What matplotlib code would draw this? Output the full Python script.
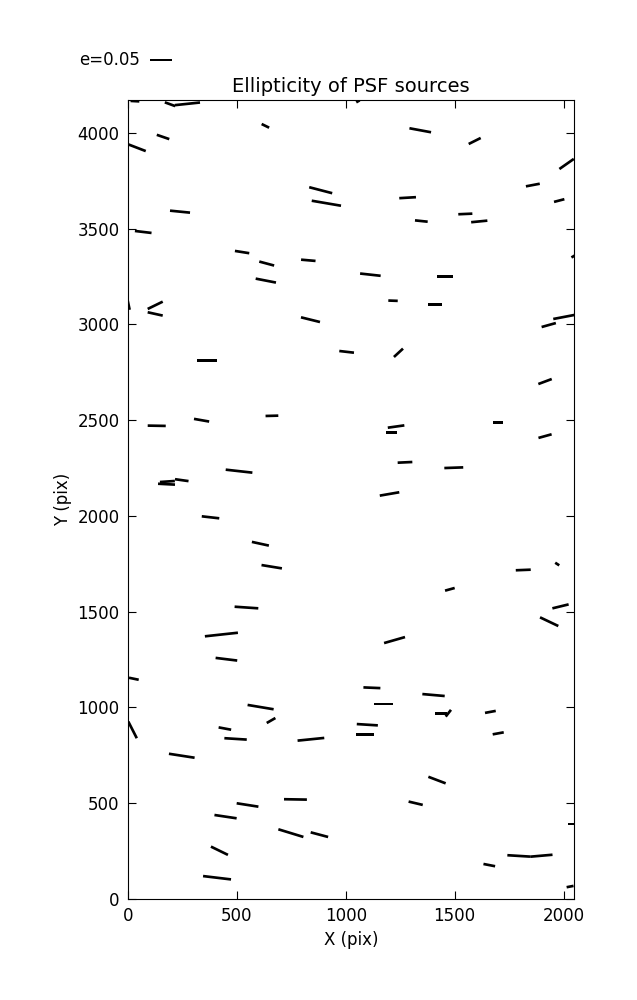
import numpy as np
import matplotlib
matplotlib.use("Agg")
import matplotlib.pyplot as plt

# star positions (pix), ellipticity and position angle (deg)
x = [32, 193, 273, 631, 161, 41, 885, 911, 239, 70, 524, 637, 828, 633,
     125, 125, 2, 838, 1004, 364, 132, 338, 661, 510, 177, 181, 247, 379,
     608, 660, 544, 429, 452, 27, 21, 609, 657, 445, 494, 840, 247, 549,
     769, 448, 748, 879, 420, 409,
     1056, 1342, 1592, 2014, 1859, 1980, 1284, 1347, 1549, 1613, 2044, 1113,
     1454, 1217, 1410, 2001, 1932, 1242, 1915, 1231, 1209, 1699, 1915, 1272,
     1496, 1201, 1971, 1815, 1478, 1986, 1934, 1224, 1120, 1403, 1175, 1436,
     1471, 1664, 1099, 1087, 1700, 1419, 1321, 2034, 1794, 1898, 1659, 2030]
y = [4166, 4150, 4152, 4037, 3979, 3923, 3701, 3633, 3589, 3483, 3378, 3318,
     3335, 3229, 3100, 3055, 3107, 3025, 2857, 2811, 2471, 2500, 2523, 2234,
     2166, 2180, 2187, 1993, 1855, 1735, 1522, 1381, 1252, 1150, 883, 1002,
     932, 890, 836, 834, 748, 491, 520, 430, 344, 336, 252, 111,
     4165, 4014, 3958, 3838, 3728, 3647, 3662, 3540, 3577, 3538, 3355, 3260,
     3252, 3124, 3103, 3039, 2997, 2852, 2702, 2467, 2435, 2487, 2417, 2280,
     2252, 2115, 1749, 1718, 1617, 1528, 1448, 1352, 1103, 1065, 1019, 970,
     970, 977, 910, 860, 865, 621, 500, 392, 225, 226, 177, 65]
e = [0.020, 0.025, 0.0575, 0.019, 0.030, 0.043, 0.054, 0.0675, 0.0457, 0.038,
     0.033, 0.035, 0.033, 0.047, 0.038, 0.035, 0.027, 0.0445, 0.0336, 0.0455,
     0.041, 0.035, 0.029, 0.061, 0.0386, 0.034, 0.031, 0.040, 0.0395, 0.047,
     0.054, 0.0755, 0.0495, 0.0225, 0.0425, 0.060, 0.0227, 0.029, 0.051, 0.061,
     0.059, 0.050, 0.052, 0.051, 0.0595, 0.041, 0.043, 0.064,
     0.009, 0.050, 0.0305, 0.040, 0.032, 0.0243, 0.038, 0.029, 0.032, 0.037,
     0.009, 0.047, 0.036, 0.0214, 0.0334, 0.0486, 0.0336, 0.028, 0.0325, 0.038,
     0.025, 0.0243, 0.031, 0.0334, 0.043, 0.045, 0.011, 0.034, 0.0227, 0.038,
     0.046, 0.0495, 0.0386, 0.051, 0.043, 0.0266, 0.0195, 0.0248, 0.048, 0.040,
     0.0255, 0.042, 0.033, 0.0136, 0.0516, 0.051, 0.027, 0.016]
theta = [-3, -20, 6, -26, -19, -21, -14.6, -9.7, -5.7, -6.8, -9, -15, -5, -11,
         26, -12.5, -78, -13.9, -6.6, 0, -1, -10, 1.5, -6.4, -3, 4, -8, -6.5,
         -12.3, -9.3, -3.9, 6.2, -7, -11.7, -63, -9.5, 30, -10.6, -3.6, 5.8,
         -8.8, -8.9, -1, -8.5, -17, -14.9, -26, -6.8,
         30, -10.5, 26.6, 35, 10.7, 14.6, 3.4, -6, 2.5, 5.6, 30, -6.3, 0, -2,
         0, 10.8, 15.6, 42.7, 20.5, 8, 0, 0, 15.5, 2.7, 2, 9.8, -33, 2.3, 15.5,
         13.7, -25.4, 16, -2.4, -5, 0, 0, 52, 10.6, -3.6, 0, 10.3, -20.8, -13.3,
         0, -3.5, 5, -11, 11]

x = np.array(x)
y = np.array(y)
e = np.array(e)
th = np.radians(theta)
u = e * np.cos(th)
v = e * np.sin(th)

fig = plt.figure(figsize=(6.37, 10), dpi=100)
ax = fig.add_axes([0.2009, 0.101, 0.7002, 0.799])

q = ax.quiver(x, y, u, v, angles='uv', scale_units='x', scale=4.95e-4,
              pivot='middle', headwidth=0, headlength=0, headaxislength=0,
              width=0.006, color='k')
ax.quiverkey(q, 0.236, 0.94, 0.05, 'e=0.05', labelpos='W',
             coordinates='figure', fontproperties={'size': 12})

ax.set_xlim(0, 2048)
ax.set_ylim(0, 4172)
ax.set_xticks([0, 500, 1000, 1500, 2000])
ax.set_yticks([0, 500, 1000, 1500, 2000, 2500, 3000, 3500, 4000])
ax.tick_params(direction='in', top=True, right=True, labelsize=12,
               length=6, pad=6)
ax.set_xlabel('X (pix)', fontsize=12)
ax.set_ylabel('Y (pix)', fontsize=12)
ax.set_title('Ellipticity of PSF sources', fontsize=14)

fig.savefig('out.png', dpi=100)
